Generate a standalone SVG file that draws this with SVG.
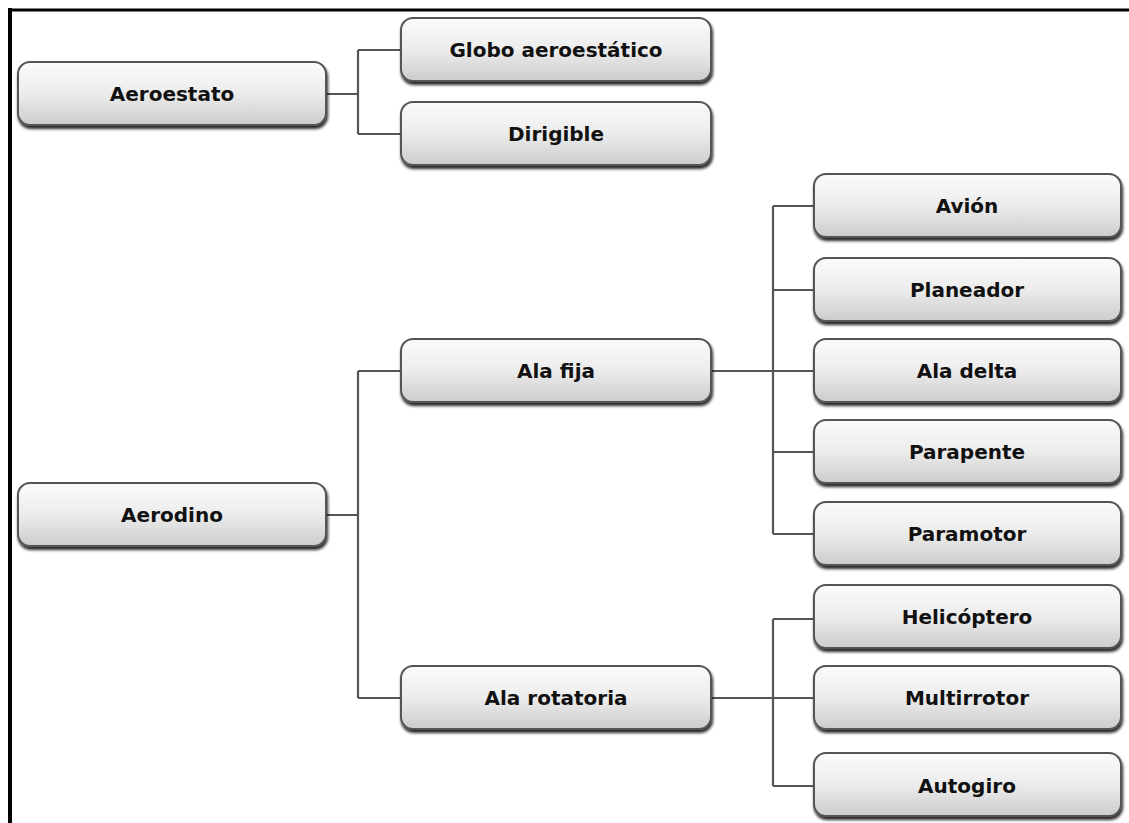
<svg xmlns="http://www.w3.org/2000/svg" width="1129" height="823" viewBox="0 0 1129 823">
<defs>
<linearGradient id="g" x1="0" y1="0" x2="0" y2="1">
<stop offset="0" stop-color="#fbfbfb"/>
<stop offset="0.5" stop-color="#ececec"/>
<stop offset="1" stop-color="#cccccc"/>
</linearGradient>
<filter id="sh" x="-5%" y="-20%" width="110%" height="150%">
<feGaussianBlur in="SourceAlpha" stdDeviation="1.5"/>
<feOffset dx="1" dy="3" result="b"/>
<feComponentTransfer><feFuncA type="linear" slope="0.85"/></feComponentTransfer>
<feMerge><feMergeNode/><feMergeNode in="SourceGraphic"/></feMerge>
</filter>
</defs>
<style>
.box{fill:url(#g);stroke:#555;stroke-width:2;filter:url(#sh)}
.t{font-family:"DejaVu Sans",Verdana,sans-serif;font-weight:bold;font-size:20px;fill:#111;text-anchor:middle;dominant-baseline:central}
.c{fill:none;stroke:#555;stroke-width:2.2}
</style>
<rect width="1129" height="823" fill="#fff"/>
<line x1="10" y1="8" x2="10" y2="823" stroke="#000" stroke-width="4"/>
<line x1="8" y1="10" x2="1129" y2="10" stroke="#000" stroke-width="3"/>
<g id="connectors">
<path class="c" d="M326 94H358M358 50V134M358 50H401M358 134H401"/>
<path class="c" d="M326 515H358M358 371V698M358 371H401M358 698H401"/>
<path class="c" d="M712 371H814M773 206V534M773 206H814M773 290H814M773 452H814M773 534H814"/>
<path class="c" d="M712 698H814M773 619V786M773 619H814M773 786H814"/>
</g>
<g id="n-aeroestato"><rect class="box" x="18" y="62" width="308" height="63" rx="12"/><text class="t" x="172" y="94">Aeroestato</text></g>
<g id="n-globo"><rect class="box" x="401" y="18" width="310" height="63" rx="12"/><text class="t" x="556" y="50">Globo aeroestático</text></g>
<g id="n-dirigible"><rect class="box" x="401" y="102" width="310" height="63" rx="12"/><text class="t" x="556" y="134">Dirigible</text></g>
<g id="n-aerodino"><rect class="box" x="18" y="483" width="308" height="63" rx="12"/><text class="t" x="172" y="515">Aerodino</text></g>
<g id="n-alafija"><rect class="box" x="401" y="339" width="310" height="63" rx="12"/><text class="t" x="556" y="371">Ala fija</text></g>
<g id="n-alarotatoria"><rect class="box" x="401" y="666" width="310" height="63" rx="12"/><text class="t" x="556" y="698">Ala rotatoria</text></g>
<g id="n-avion"><rect class="box" x="814" y="174" width="307" height="63" rx="12"/><text class="t" x="967" y="206">Avión</text></g>
<g id="n-planeador"><rect class="box" x="814" y="258" width="307" height="63" rx="12"/><text class="t" x="967" y="290">Planeador</text></g>
<g id="n-aladelta"><rect class="box" x="814" y="339" width="307" height="63" rx="12"/><text class="t" x="967" y="371">Ala delta</text></g>
<g id="n-parapente"><rect class="box" x="814" y="420" width="307" height="63" rx="12"/><text class="t" x="967" y="452">Parapente</text></g>
<g id="n-paramotor"><rect class="box" x="814" y="502" width="307" height="63" rx="12"/><text class="t" x="967" y="534">Paramotor</text></g>
<g id="n-helicoptero"><rect class="box" x="814" y="585" width="307" height="63" rx="12"/><text class="t" x="967" y="617">Helicóptero</text></g>
<g id="n-multirrotor"><rect class="box" x="814" y="666" width="307" height="63" rx="12"/><text class="t" x="967" y="698">Multirrotor</text></g>
<g id="n-autogiro"><rect class="box" x="814" y="753" width="307" height="63" rx="12"/><text class="t" x="967" y="786">Autogiro</text></g>
</svg>
